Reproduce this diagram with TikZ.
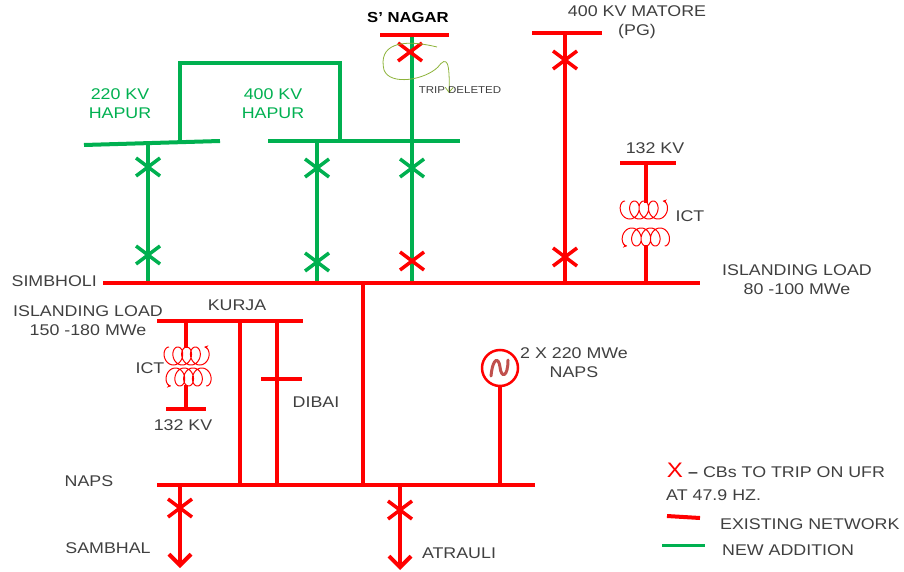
\documentclass[tikz,border=0pt]{standalone}
\usepackage{fontspec}
\setmainfont{Liberation Sans}[FakeStretch=1.15]
\usetikzlibrary{arrows.meta}
\definecolor{pred}{HTML}{FF0000}
\definecolor{pgreen}{HTML}{00B050}
\definecolor{ptext}{HTML}{404040}
\definecolor{gdark}{HTML}{C0504D}
\definecolor{scrib}{HTML}{8DB33A}
\tikzset{
  lbl/.style={text=ptext,font=\fontsize{15.5}{19}\selectfont,align=center,inner sep=0pt},
  glbl/.style={lbl,text=pgreen},
  redline/.style={draw=pred,line width=4pt},
  greenline/.style={draw=pgreen,line width=4pt},
  coil/.style={draw=pred,line width=1pt},
  cbred/.style={draw=pred,line width=3.5pt},
  cbgreen/.style={draw=pgreen,line width=3.5pt},
}
\newcommand{\cbx}[2]{%
  \draw[#1] ($(#2)+(-12,-9)$) -- ($(#2)+(12,9)$);
  \draw[#1] ($(#2)+(-12,9)$) -- ($(#2)+(12,-9)$);}
\usetikzlibrary{calc}
\begin{document}
\begin{tikzpicture}[x=1pt,y=-1pt]
\useasboundingbox (0,0) rectangle (904,572);
% ---------- coordinates ----------
\coordinate (simL) at (103,283); \coordinate (simR) at (700,283);
\coordinate (h2L) at (84,145); \coordinate (h2R) at (220,141);
\coordinate (h4L) at (268,141); \coordinate (h4R) at (460,141);
\coordinate (snL) at (380,35); \coordinate (snR) at (449,35);
\coordinate (mtL) at (532,33); \coordinate (mtR) at (602,33);
\coordinate (k1L) at (620,163); \coordinate (k1R) at (676,163);
\coordinate (kuL) at (157,321); \coordinate (kuR) at (303,321);
\coordinate (k2L) at (166,409); \coordinate (k2R) at (206,409);
\coordinate (dbL) at (261,379); \coordinate (dbR) at (302,379);
\coordinate (npL) at (157,485); \coordinate (npR) at (535,485);
% ---------- green (new addition) ----------
\draw[greenline] (h2L) -- (h2R);
\draw[greenline] (h4L) -- (h4R);
\draw[greenline] (148,143) -- (148,283);
\draw[greenline] (180,142) -- (180,63) -- (340,63) -- (340,141);
\draw[greenline] (317,141) -- (317,283);
\draw[greenline] (412,35) -- (412,283);
% ---------- red network ----------
\draw[redline] (simL) -- (simR);
\draw[redline] (snL) -- (snR);
\draw[redline] (mtL) -- (mtR);
\draw[redline] (565,33) -- (565,283);
\draw[redline] (k1L) -- (k1R);
\draw[redline] (646,163) -- (646,203);
\draw[redline] (646,245) -- (646,283);
\draw[redline] (363,283) -- (363,485);
\draw[redline] (kuL) -- (kuR);
\draw[redline] (186,321) -- (186,348);
\draw[redline] (186,385) -- (186,409);
\draw[redline] (k2L) -- (k2R);
\draw[redline] (240,321) -- (240,485);
\draw[redline] (277,321) -- (277,485);
\draw[redline] (dbL) -- (dbR);
\draw[redline] (npL) -- (npR);
\node[circle,draw=pred,line width=2.5pt,minimum size=36pt,inner sep=0pt] (gen) at (500,368) {};
\draw[redline] (gen.south) -- (500,485);
\draw[gdark,line width=3pt,line cap=round] (491,376) .. controls (493,356) and (499,358) .. (500,367) .. controls (501,378) and (508,378) .. (508,360);
\draw[redline,-{Straight Barb[length=11pt,width=22pt,line width=4pt]}] (180,485) -- (180,568);
\draw[redline,-{Straight Barb[length=11pt,width=22pt,line width=4pt]}] (400,485) -- (400,570);
% ---------- ICT coils ----------
\draw[coil,-{Stealth[length=4pt,width=4pt]}] plot[domain=0:25.13,samples=160,smooth] ({625+1.5*\x-7*sin(\x r)},{210-9*cos(\x r)});
\draw[coil,{Stealth[length=4pt,width=4pt]}-] plot[domain=0:25.13,samples=160,smooth] ({627+1.5*\x-7*sin(\x r)},{237+9*cos(\x r)});
\draw[coil,-{Stealth[length=4pt,width=4pt]}] plot[domain=0:25.13,samples=160,smooth] ({169+1.4*\x-7*sin(\x r)},{356-9*cos(\x r)});
\draw[coil,{Stealth[length=4pt,width=4pt]}-] plot[domain=0:25.13,samples=160,smooth] ({171+1.4*\x-7*sin(\x r)},{377+9*cos(\x r)});
% ---------- circuit breakers ----------
\cbx{cbgreen}{148,167}
\cbx{cbgreen}{148,255}
\cbx{cbgreen}{317,168}
\cbx{cbgreen}{317,262}
\cbx{cbgreen}{412,168}
\cbx{cbred}{412,261}
\cbx{cbred}{410,52}
\cbx{cbred}{565,60}
\cbx{cbred}{565,257}
\cbx{cbred}{180,508}
\cbx{cbred}{400,510}
% ---------- scribble ----------
\draw[scrib,line width=0.8pt,-{Straight Barb[length=5pt,width=8pt]}] (437,47) .. controls (400,38) and (378,45) .. (384,70) .. controls (390,86) and (425,80) .. (438,67) .. controls (447,55) and (450,62) .. (449,93);
% ---------- labels ----------
\node[lbl,anchor=east] (tsim) at (97,281) {SIMBHOLI};
\node[inner sep=0pt,font=\fontsize{14.5}{16}\bfseries\selectfont] (tsn) at (408,18) {S’ NAGAR};
\node[lbl] (tmat) at (637,22) {400 KV MATORE\\(PG)};
\node[glbl] (th2) at (120,104) {220 KV\\HAPUR};
\node[glbl] (th4) at (273,104) {400 KV\\HAPUR};
\node[lbl,font=\fontsize{10}{11}\selectfont] (ttd) at (460,90) {TRIP DELETED};
\node[lbl] (t132a) at (655,148) {132 KV};
\node[lbl] (tict1) at (690,216) {ICT};
\node[lbl] (til1) at (797,280) {ISLANDING LOAD\\80 -100 MWe};
\node[lbl] (til2) at (88,321) {ISLANDING LOAD\\150 -180 MWe};
\node[lbl] (tku) at (237,305) {KURJA};
\node[lbl] (tict2) at (150,368) {ICT};
\node[lbl] (t132b) at (183,425) {132 KV};
\node[lbl] (tdb) at (316,402) {DIBAI};
\node[lbl] (tgen) at (574,363) {2 X 220 MWe\\NAPS};
\node[lbl] (tnp) at (89,481) {NAPS};
\node[lbl] (tsam) at (108,548) {SAMBHAL};
\node[lbl] (tatr) at (459,553) {ATRAULI};
% ---------- legend ----------
\node[inner sep=0pt,text=pred,font=\fontsize{21}{21}\selectfont] (lx) at (675,470) {X};
\node[lbl,anchor=west] (l1) at (688,472) {\textbf{–} CBs TO TRIP ON UFR};
\node[lbl,anchor=west] (l2) at (666,495) {AT 47.9 HZ.};
\coordinate (lr1) at (667,516); \coordinate (lr2) at (700,518);
\draw[draw=pred,line width=4pt] (lr1) -- (lr2);
\node[lbl,anchor=west] (l3) at (720,524) {EXISTING NETWORK};
\coordinate (lg1) at (662,545); \coordinate (lg2) at (705,545);
\draw[draw=pgreen,line width=3pt] (lg1) -- (lg2);
\node[lbl,anchor=west] (l4) at (722,550) {NEW ADDITION};
\end{tikzpicture}
\end{document}
